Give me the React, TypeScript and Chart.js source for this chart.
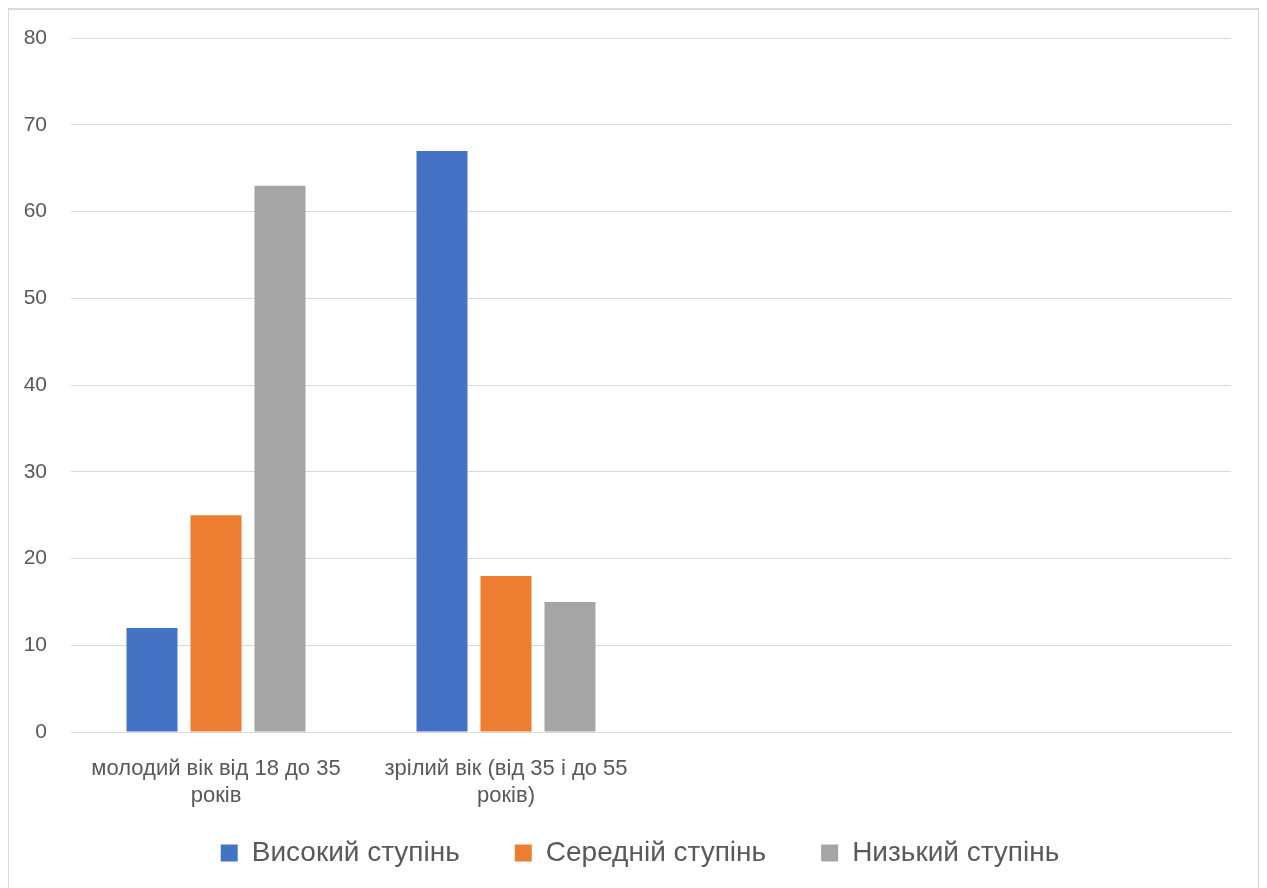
import React, { useEffect, useRef } from "react";
import { Chart, registerables } from "chart.js";

Chart.register(...registerables);

const categories: (string | string[])[] = [
  ["молодий вік від 18 до 35", "років"],
  ["зрілий вік (від 35 і до 55", "років)"],
  "",
  "",
];
const seriesNames = ["Високий ступінь", "Середній ступінь", "Низький ступінь"];
const highValues = [12, 67, null, null];
const mediumValues = [25, 18, null, null];
const lowValues = [63, 15, null, null];
const seriesColors = ["#4472C4", "#ED7D31", "#A5A5A5"];

const legendShift = {
  id: "legendShift",
  afterLayout(chart: any) {
    if (chart.legend) {
      chart.legend.left += 20;
      chart.legend.right += 20;
    }
  },
};

export default function App() {
  const ref = useRef<HTMLCanvasElement | null>(null);
  useEffect(() => {
    if (!ref.current) return;
    const font = "'Liberation Sans', Arial, sans-serif";
    const chart = new Chart(ref.current, {
      type: "bar",
      data: {
        labels: categories,
        datasets: [highValues, mediumValues, lowValues].map((d, i) => ({
          label: seriesNames[i],
          data: d,
          backgroundColor: seriesColors[i],
          borderWidth: 0,
          categoryPercentage: 0.662,
          barPercentage: 0.797,
        })),
      },
      plugins: [legendShift],
      options: {
        animation: false,
        responsive: false,
        maintainAspectRatio: false,
        layout: { padding: { top: 4, right: 27, left: 0, bottom: 0 } },
        plugins: {
          tooltip: { enabled: false },
          legend: {
            position: "bottom",
            labels: {
              boxWidth: 17,
              boxHeight: 17,
              color: "#595959",
              padding: 55,
              font: { family: font, size: 28 },
            },
          },
        },
        scales: {
          x: {
            afterFit: (s: any) => {
              s.height = 52;
              s._computeLabelArea = () => undefined;
            },
            grid: { display: false, drawTicks: false },
            border: { display: true, color: "#d9d9d9", width: 1 },
            ticks: {
              color: "#595959",
              padding: 23,
              maxRotation: 0,
              autoSkip: false,
              font: { family: font, size: 22, lineHeight: 1.25 },
            },
          },
          y: {
            min: 0,
            max: 80,
            afterFit: (s: any) => {
              s.width = 62;
            },
            grid: { color: "#d9d9d9", drawTicks: false, lineWidth: 1 },
            border: { display: false },
            ticks: {
              stepSize: 10,
              color: "#595959",
              padding: 24,
              font: { family: font, size: 21, lineHeight: 0.4 },
            },
          },
        },
      },
    });
    return () => chart.destroy();
  }, []);
  return (
    <div
      style={{
        width: 1249,
        height: 900,
        border: "2px solid #d9d9d9",
        background: "#fff",
        marginLeft: -1,
        boxSizing: "content-box",
      }}
    >
      <canvas ref={ref} width={1249} height={867} style={{ display: "block" }} />
    </div>
  );
}
